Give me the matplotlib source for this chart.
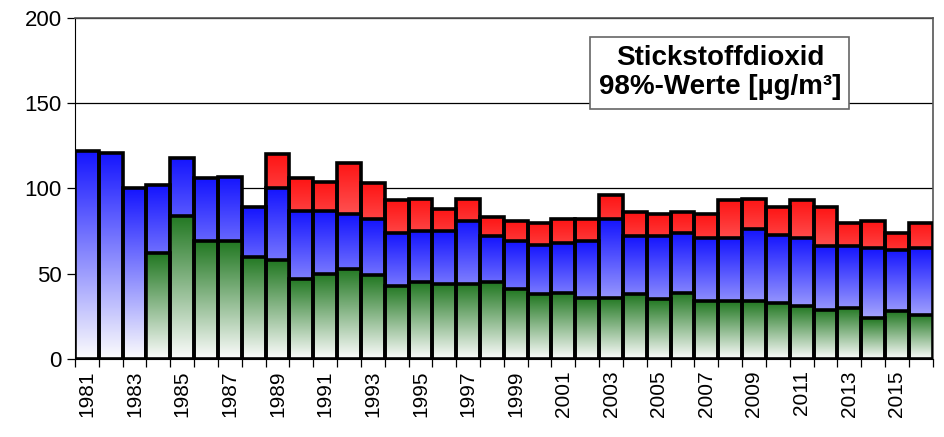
import numpy as np
import matplotlib
matplotlib.use('Agg')
import matplotlib.pyplot as plt

plt.rcParams['font.family'] = ['Liberation Sans', 'DejaVu Sans']

# Data (NO2, 98th percentile values)
years = list(range(1981, 2017))
red_vals = [np.nan] * 8 + [120, 106, 104, 115, 103, 93, 94, 88, 94, 83, 81, 80, 82, 82,
                           96, 86, 85, 86, 85, 93, 94, 89, 93, 89, 80, 81, 74, 80]
blue_vals = [122, 121, 100, 102, 118, 106, 107, 89, 100, 87, 87, 85, 82, 74, 75, 75, 81, 72,
             69, 67, 68, 69, 82, 72, 72, 74, 71, 71, 76, 73, 71, 66, 66, 65, 64, 65]
green_vals = [np.nan] * 3 + [62, 84, 69, 69, 60, 58, 47, 50, 53, 49, 43, 45, 44, 44, 45,
                             41, 38, 39, 36, 36, 38, 35, 39, 34, 34, 34, 33, 31, 29, 30, 24, 28, 26]
tick_labels = [str(y) if (y - 1981) % 2 == 0 else '' for y in years]

series = [
    (red_vals, (1.0, 0.08, 0.08)),
    (blue_vals, (0.08, 0.08, 1.0)),
    (green_vals, (0.13, 0.47, 0.13)),
]

fig = plt.figure(figsize=(9.44, 4.37), dpi=100)
ax = fig.add_axes([0.0794, 0.1785, 0.9086, 0.7803])

x = np.arange(len(years))
t = np.linspace(0, 1, 256)[:, None]
for k, (vals, col) in enumerate(series):
    z = 3 + k
    grad = ((1 - t) * np.array([0.99, 0.99, 0.99]) + t * np.array(col))[:, None, :]
    for xi, v in zip(x, vals):
        if np.isnan(v):
            continue
        ax.imshow(grad, extent=[xi - 0.5, xi + 0.5, 0, v], origin='lower',
                  aspect='auto', zorder=z, interpolation='bilinear')
    ax.bar(x, vals, width=1.0, fill=False, edgecolor='black', linewidth=2.6, zorder=z + 0.5)

ax.set_xlim(-0.5, len(years) - 0.5)
ax.set_ylim(0, 200)
ax.set_yticks([0, 50, 100, 150, 200])
ax.yaxis.grid(True, color='black', linewidth=0.9)
ax.set_axisbelow(True)

ax.set_xticks(x)
ax.set_xticklabels(tick_labels, rotation=90, fontsize=15)
ax.set_xticks(np.arange(-0.5, len(years)), minor=True)
ax.tick_params(axis='x', which='major', length=0, pad=8)
ax.tick_params(axis='x', which='minor', length=6, width=0.9, direction='out')
ax.tick_params(axis='y', labelsize=16, length=6, width=0.9, direction='out')

for s in ['top', 'right']:
    ax.spines[s].set_color('#555555')
    ax.spines[s].set_linewidth(1.2)
ax.spines['left'].set_color('black')
ax.spines['bottom'].set_color('black')

ax.text(0.752, 0.839, 'Stickstoffdioxid\n98%-Werte [µg/m³]', transform=ax.transAxes,
        ha='center', va='center', fontsize=20, fontweight='bold', linespacing=1.15, zorder=10,
        bbox=dict(boxstyle='square,pad=0.3', facecolor='white', edgecolor='#666666', linewidth=1.2))

plt.savefig('out.png', dpi=100)
